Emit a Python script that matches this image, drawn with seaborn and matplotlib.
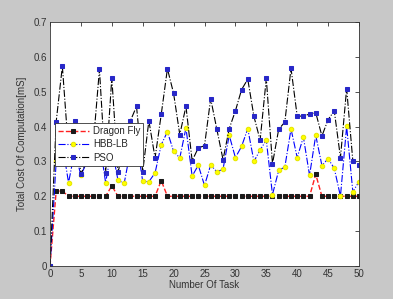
import matplotlib
matplotlib.use("Agg")
import matplotlib.pyplot as plt
import seaborn as sns
import numpy as np
import pandas as pd

tasks = list(range(0, 51))

dragon_fly = [0, 0.215, 0.215, 0.2, 0.2, 0.2, 0.2, 0.2, 0.2, 0.2,
              0.23, 0.2, 0.2, 0.2, 0.2, 0.2, 0.2, 0.2, 0.245, 0.2,
              0.2, 0.2, 0.2, 0.2, 0.2, 0.2, 0.2, 0.2, 0.2, 0.2,
              0.2, 0.2, 0.2, 0.2, 0.2, 0.2, 0.2, 0.2, 0.2, 0.2,
              0.2, 0.2, 0.2, 0.263, 0.2, 0.2, 0.2, 0.2, 0.2, 0.2,
              0.2]

hbb_lb = [0, 0.30, 0.35, 0.239, 0.33, 0.26, 0.30, 0.33, 0.36, 0.239,
          0.34, 0.246, 0.237, 0.33, 0.36, 0.243, 0.242, 0.267, 0.348, 0.385,
          0.329, 0.31, 0.396, 0.258, 0.289, 0.231, 0.29, 0.27, 0.278, 0.375,
          0.311, 0.343, 0.394, 0.3, 0.333, 0.361, 0.205, 0.274, 0.284, 0.393,
          0.311, 0.37, 0.26, 0.375, 0.288, 0.308, 0.28, 0.2, 0.401, 0.213,
          0.242]

pso = [0, 0.414, 0.573, 0.33, 0.415, 0.265, 0.30, 0.35, 0.564, 0.268,
       0.54, 0.27, 0.33, 0.416, 0.458, 0.27, 0.417, 0.31, 0.435, 0.566,
       0.495, 0.377, 0.458, 0.302, 0.339, 0.345, 0.48, 0.392, 0.305, 0.394,
       0.445, 0.506, 0.536, 0.429, 0.361, 0.538, 0.293, 0.392, 0.413, 0.567,
       0.43, 0.43, 0.436, 0.44, 0.373, 0.42, 0.445, 0.311, 0.509, 0.302,
       0.289]

x_ticks = [0, 5, 10, 15, 20, 25, 30, 35, 40, 45, 50]
y_ticks = [0, 0.1, 0.2, 0.3, 0.4, 0.5, 0.6, 0.7]

sns.set_theme(style="white")
plt.rcParams['font.family'] = ['Liberation Sans', 'DejaVu Sans']

fig = plt.figure(figsize=(3.93, 2.99), dpi=100)
fig.patch.set_facecolor("#c8c8c8")
ax = fig.add_axes([50/393, 33/299, 309/393, 244/299])
ax.set_facecolor("white")

sns.lineplot(x=tasks, y=dragon_fly, ax=ax, color="#ff2020", linestyle="--",
             linewidth=1.0, marker="s", markersize=2.4,
             markerfacecolor="#1a1a1a", markeredgecolor="#1a1a1a",
             label="Dragon Fly", sort=False)
sns.lineplot(x=tasks, y=hbb_lb, ax=ax, color="blue", linestyle="-.",
             linewidth=0.8, marker="o", markersize=3.2,
             markerfacecolor="yellow", markeredgecolor="#e6e600",
             label="HBB-LB", sort=False)
sns.lineplot(x=tasks, y=pso, ax=ax, color="black", linestyle="-.",
             linewidth=0.8, marker="s", markersize=3.2,
             markerfacecolor="#2828c8", markeredgecolor="#2828c8",
             label="PSO", sort=False)

ax.set_xlim(0, 50)
ax.set_ylim(0, 0.7)
ax.set_xticks(x_ticks)
ax.set_yticks(y_ticks)
ax.set_xticklabels([str(t) for t in x_ticks])
ax.set_yticklabels(["0", "0.1", "0.2", "0.3", "0.4", "0.5", "0.6", "0.7"])
ax.tick_params(direction="in", length=3, width=0.6, top=True, right=True,
               labelsize=7, colors="#333333", pad=2)
for s in ax.spines.values():
    s.set_visible(True)
    s.set_color("#333333")
    s.set_linewidth(0.6)

ax.set_xlabel("Number Of Task", fontsize=7, color="#333333", labelpad=1)
ax.set_ylabel("Total Cost Of Computation[mS]", fontsize=7, color="#333333", labelpad=5)

leg = ax.legend(loc="upper left", bbox_to_anchor=(5/309, 143/244), fontsize=7,
                frameon=True, fancybox=False, borderpad=0.3, labelspacing=0.35,
                handlelength=3.2, handletextpad=0.4, borderaxespad=0)
leg.get_frame().set_edgecolor("#333333")
leg.get_frame().set_linewidth(0.6)
leg.get_frame().set_facecolor("white")
leg.get_frame().set_alpha(1)

fig.savefig("out.png", dpi=100, facecolor=fig.get_facecolor())
